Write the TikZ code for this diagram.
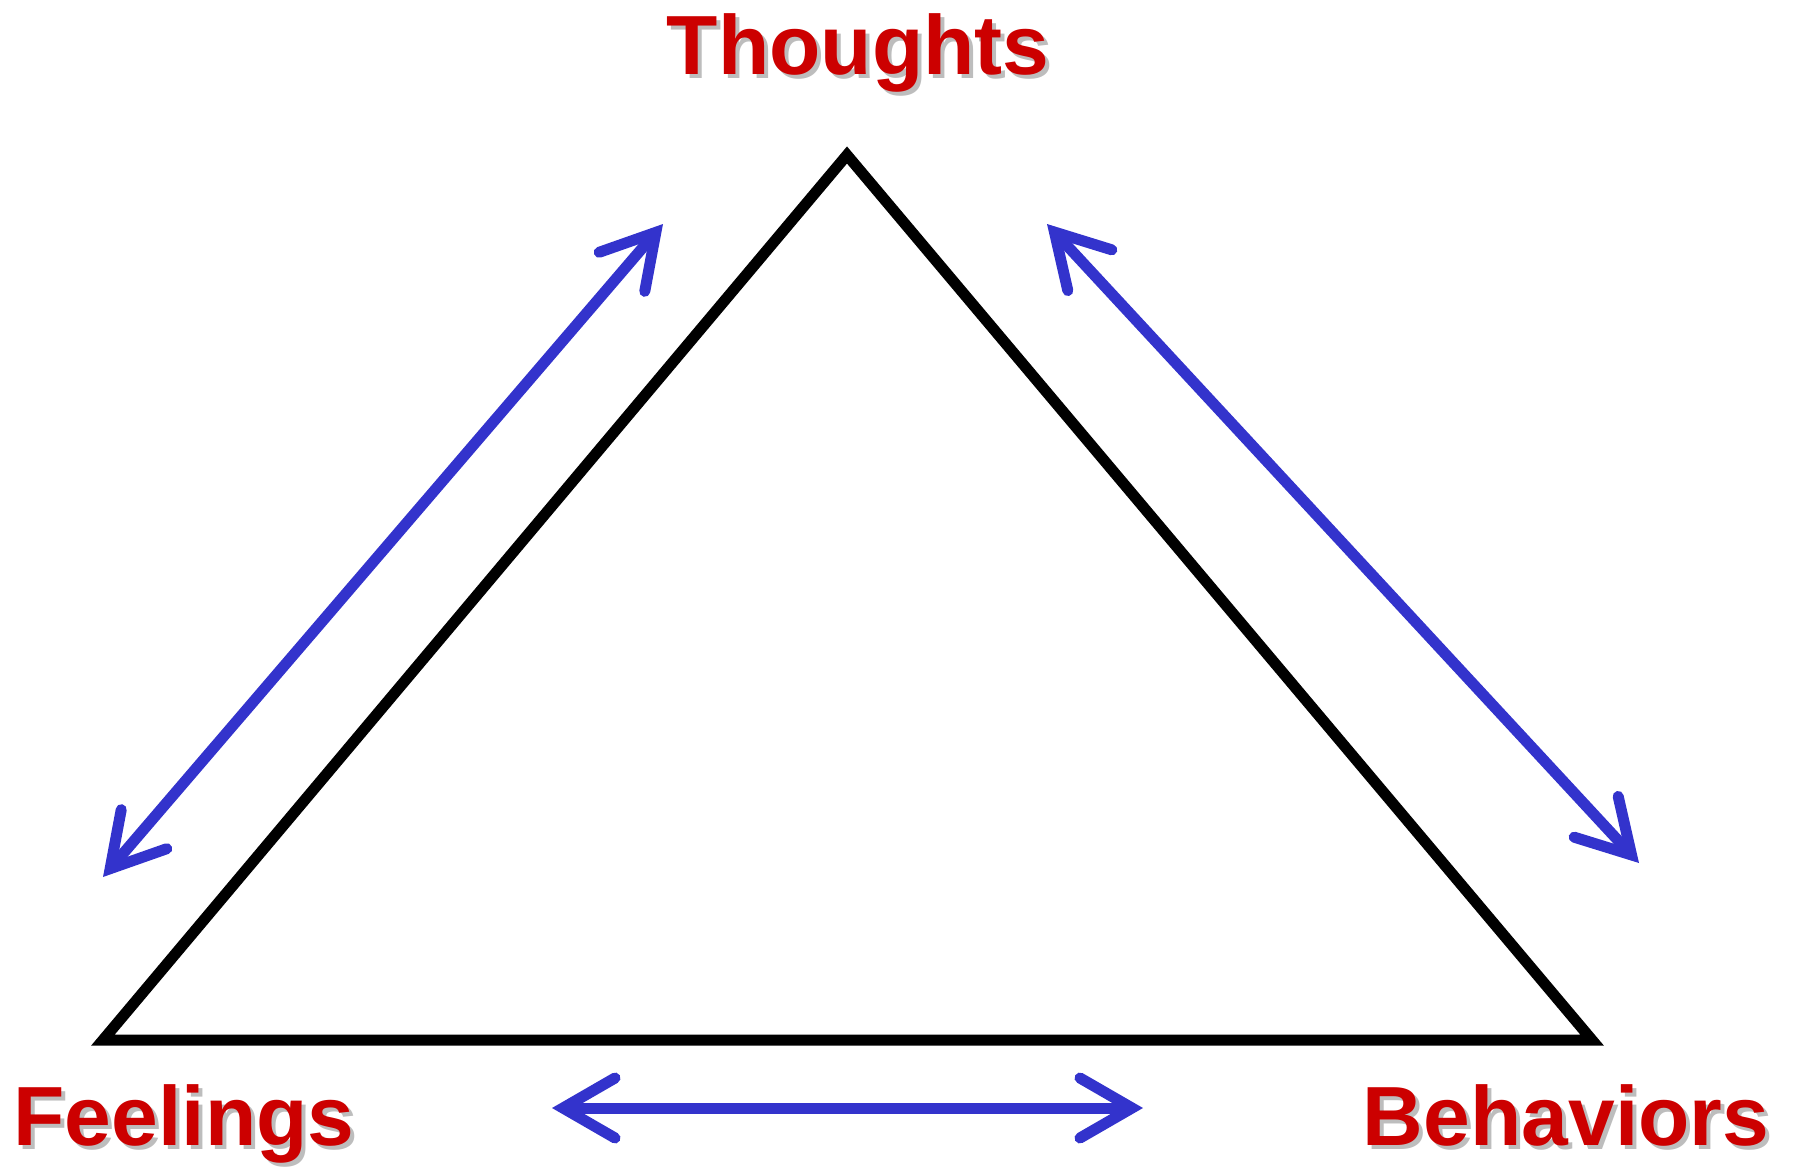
\documentclass[tikz,border=0pt]{standalone}
\usepackage{fontspec}
\setmainfont{Liberation Sans}
\usetikzlibrary{arrows.meta}
\definecolor{lblred}{HTML}{CC0000}
\definecolor{arrblue}{HTML}{3333CC}
\definecolor{shadowgray}{HTML}{BDBDBD}
\tikzset{
  tri/.style={draw=black, line width=1.1mm, line join=miter},
  dblarrow/.style={draw=arrblue, line width=1.1mm,
    {Straight Barb[length=5.2mm, width=6mm, line cap=round, line join=miter]}-{Straight Barb[length=5.2mm, width=6mm, line cap=round, line join=miter]}},
  lbl/.style={inner sep=0pt, anchor=base, text=lblred, font=\bfseries\fontsize{23.9pt}{28pt}\selectfont},
  lblshadow/.style={lbl, text=shadowgray}
}
\begin{document}
\begin{tikzpicture}[x=0.1mm, y=-0.1mm]
\useasboundingbox (0,0) rectangle (1796,1168);
% triangle
\coordinate (A) at (847,155);
\coordinate (B) at (103,1040);
\coordinate (C) at (1592,1040);
\draw[tri] (A) -- (B) -- (C) -- cycle;
% labels
\node[lblshadow] (thS) at (862,78) {Thoughts};
\node[lbl] (th) at (858,74) {Thoughts};
\node[lblshadow] (feS) at (188,1149) {Feelings};
\node[lbl] (fe) at (184,1145) {Feelings};
\node[lblshadow] (beS) at (1570,1149) {Behaviors};
\node[lbl] (be) at (1566,1145) {Behaviors};
% arrows
\coordinate (l1) at (103,877);
\coordinate (l2) at (663,224);
\coordinate (r1) at (1047,224);
\coordinate (r2) at (1639,863);
\coordinate (b1) at (552,1108);
\coordinate (b2) at (1143,1108);
\draw[dblarrow] (l1) -- (l2);
\draw[dblarrow] (r1) -- (r2);
\draw[dblarrow] (b1) -- (b2);
\end{tikzpicture}
\end{document}
